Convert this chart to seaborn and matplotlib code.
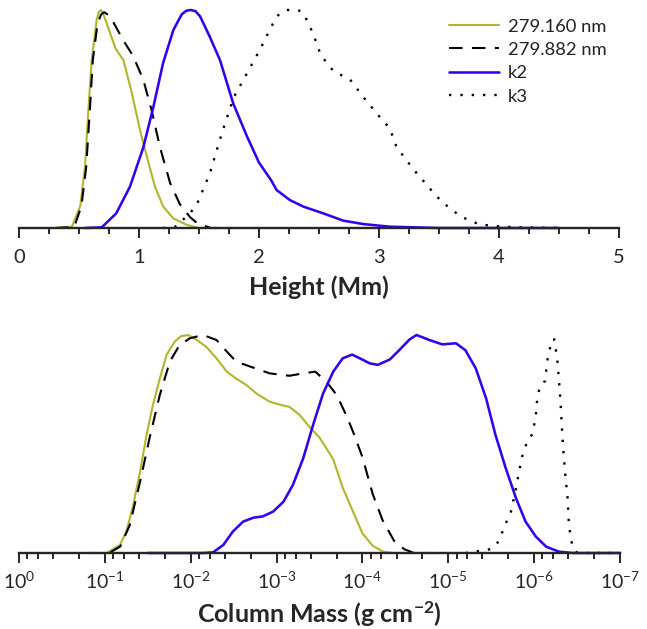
import numpy as np
import pandas as pd
import matplotlib
matplotlib.use("Agg")
import matplotlib.pyplot as plt
from matplotlib.ticker import LogLocator, NullFormatter
import seaborn as sns

# ---- data (peak-normalised distributions) ----
labels = ["279.160 nm", "279.882 nm", "k2", "k3"]

# height panel, x in Mm
h160_x = [0.30, 0.44, 0.51, 0.55, 0.578, 0.606, 0.647, 0.665, 0.683, 0.70, 0.73, 0.80,
          0.82, 0.87, 0.94, 1.008, 1.064, 1.133, 1.20, 1.286, 1.40, 1.50, 1.75]
h160_y = [0, 0.005, 0.10, 0.28, 0.54, 0.77, 0.954, 0.99, 1.0, 0.985, 0.94, 0.83,
          0.81, 0.77, 0.62, 0.45, 0.33, 0.19, 0.10, 0.044, 0.014, 0.0, 0]

h882_x = [0.30, 0.46, 0.52, 0.56, 0.59, 0.615, 0.655, 0.685, 0.71, 0.75, 0.79, 0.87,
          0.95, 1.036, 1.105, 1.175, 1.26, 1.34, 1.425, 1.49, 1.60, 2.0]
h882_y = [0, 0.005, 0.10, 0.28, 0.54, 0.77, 0.94, 0.98, 0.99, 0.975, 0.94, 0.86,
          0.79, 0.68, 0.54, 0.37, 0.205, 0.11, 0.05, 0.02, 0, 0]

hk2_x = [0.55, 0.69, 0.81, 0.925, 1.036, 1.12, 1.20, 1.286, 1.356, 1.395, 1.43, 1.47,
         1.51, 1.59, 1.675, 1.786, 1.90, 2.0, 2.1, 2.147, 2.258, 2.37, 2.536, 2.70,
         2.87, 3.09, 3.5, 4.5]
hk2_y = [0, 0.003, 0.067, 0.19, 0.37, 0.556, 0.755, 0.908, 0.98, 0.997, 1.0, 0.995,
         0.97, 0.877, 0.77, 0.57, 0.42, 0.30, 0.22, 0.174, 0.128, 0.098, 0.067, 0.034,
         0.018, 0.006, 0, 0]

hk3_x = [1.20, 1.30, 1.425, 1.486, 1.59, 1.69, 1.79, 1.90, 2.0, 2.1, 2.147, 2.19, 2.23,
         2.31, 2.35, 2.38, 2.45, 2.51, 2.56, 2.62, 2.76, 2.87, 2.98, 3.09, 3.145, 3.23,
         3.316, 3.40, 3.47, 3.54, 3.61, 3.675, 3.744, 3.83, 3.95, 4.15, 4.53]
hk3_y = [0, 0.005, 0.067, 0.113, 0.25, 0.434, 0.60, 0.71, 0.81, 0.92, 0.97, 0.99, 1.0,
         1.0, 0.995, 0.975, 0.893, 0.80, 0.76, 0.72, 0.68, 0.60, 0.526, 0.457, 0.373, 0.31,
         0.25, 0.197, 0.151, 0.113, 0.083, 0.055, 0.037, 0.018, 0.009, 0.003, 0]

# column mass panel, x given as -log10(g cm^-2)
m160_d = [0.8, 1.02, 1.175, 1.25, 1.33, 1.41, 1.485, 1.56, 1.64, 1.72, 1.815, 1.89,
          1.97, 2.07, 2.18, 2.30, 2.42, 2.53, 2.65, 2.77, 2.92, 3.04, 3.15, 3.27,
          3.38, 3.50, 3.58, 3.66, 3.77, 3.89, 4.0, 4.12, 4.24, 4.36, 5.0]
m160_y = [0, 0, 0.037, 0.098, 0.22, 0.373, 0.54, 0.68, 0.80, 0.91, 0.97, 0.995,
          1.0, 0.977, 0.946, 0.893, 0.832, 0.80, 0.77, 0.73, 0.694, 0.68, 0.67, 0.633,
          0.58, 0.53, 0.48, 0.43, 0.30, 0.19, 0.09, 0.033, 0.006, 0, 0]

m882_d = [0.8, 1.05, 1.18, 1.29, 1.41, 1.52, 1.64, 1.757, 1.87, 1.99, 2.145, 2.30,
          2.42, 2.53, 2.73, 2.92, 3.15, 3.31, 3.45, 3.58, 3.70, 3.81, 3.89, 4.0,
          4.12, 4.235, 4.37, 4.49, 4.6, 5.2]
m882_y = [0, 0, 0.03, 0.128, 0.327, 0.526, 0.725, 0.878, 0.954, 0.985, 1.0, 0.977,
          0.924, 0.878, 0.85, 0.824, 0.813, 0.824, 0.832, 0.786, 0.725, 0.633, 0.557, 0.44,
          0.27, 0.15, 0.055, 0.017, 0, 0]

mk2_d = [1.5, 2.15, 2.26, 2.38, 2.49, 2.61, 2.73, 2.84, 2.96, 3.08, 3.19, 3.31, 3.425,
         3.54, 3.66, 3.77, 3.88, 3.97, 4.085, 4.18, 4.32, 4.43, 4.55, 4.63, 4.78,
         4.93, 5.09, 5.20, 5.32, 5.44, 5.55, 5.67, 5.79, 5.90, 6.02, 6.14, 6.29,
         6.45, 7.0]
mk2_y = [0, 0, 0.003, 0.037, 0.098, 0.144, 0.162, 0.168, 0.19, 0.235, 0.312, 0.434,
         0.587, 0.73, 0.832, 0.893, 0.91, 0.893, 0.87, 0.863, 0.888, 0.931, 0.98, 1.0,
         0.977, 0.957, 0.962, 0.93, 0.847, 0.71, 0.541, 0.388, 0.25, 0.144, 0.075,
         0.029, 0.006, 0, 0]

mk3_d = [5.2, 5.50, 5.585, 5.67, 5.73, 5.78, 5.82, 5.87, 5.92, 5.97, 6.0, 6.02, 6.04,
         6.08, 6.13, 6.15, 6.18, 6.20, 6.235, 6.27, 6.30, 6.32, 6.335, 6.36, 6.39,
         6.405, 6.445, 6.5, 7.0]
mk3_y = [0, 0.018, 0.052, 0.136, 0.19, 0.28, 0.365, 0.46, 0.51, 0.54, 0.587, 0.633,
         0.725, 0.774, 0.79, 0.878, 0.93, 0.977, 0.98, 0.885, 0.74, 0.60, 0.495, 0.373,
         0.25, 0.128, 0.029, 0, 0]

colors = ["#b2b52c", "black", "#3300f0", "black"]
widths = [1.5, 1.5, 1.85, 1.7]
styles = ["-", (0, (6.5, 4.5)), "-", (0, (1, 3.8))]

sns.set_style("white")
plt.rcParams["font.family"] = ["Lato", "DejaVu Sans"]
plt.rcParams["mathtext.fontset"] = "custom"
plt.rcParams["mathtext.rm"] = "Lato"
plt.rcParams["mathtext.it"] = "Lato:italic"
plt.rcParams["mathtext.bf"] = "Lato:bold"
plt.rcParams["axes.unicode_minus"] = True

fig = plt.figure(figsize=(6.47, 6.29), dpi=100)
ax1 = fig.add_axes([19 / 647, 1 - 228 / 629, 600 / 647, 218 / 629])
ax2 = fig.add_axes([19 / 647, 1 - 553 / 629, 601 / 647, 218 / 629])

top = [(h160_x, h160_y), (h882_x, h882_y), (hk2_x, hk2_y), (hk3_x, hk3_y)]
bot = [(m160_d, m160_y), (m882_d, m882_y), (mk2_d, mk2_y), (mk3_d, mk3_y)]

for i, lab in enumerate(labels):
    x, y = top[i]
    sns.lineplot(x=x, y=y, ax=ax1, color=colors[i], lw=widths[i], label=lab,
                 linestyle=styles[i], sort=False)
    d, y = bot[i]
    sns.lineplot(x=10.0 ** (-np.array(d)), y=y, ax=ax2, color=colors[i], lw=widths[i],
                 linestyle=styles[i], sort=False, legend=False)

for ln in ax1.lines + ax2.lines:
    ln.set_clip_on(False)
    ln.set_solid_joinstyle("round")
    ln.set_dash_joinstyle("round")

ax1.set_xlim(0, 5)
ax1.set_ylim(0, 1)
ax1.set_xticks(np.arange(0, 5.01, 1))
ax1.set_xticks(np.arange(0, 5.01, 0.25), minor=True)
ax1.set_xlabel("Height (Mm)", fontsize=18, fontweight="bold", labelpad=7)

ax2.set_xscale("log")
ax2.set_xlim(1, 1e-7)
ax2.set_ylim(0, 1)
ax2.xaxis.set_minor_locator(LogLocator(base=10, subs=(0.2, 0.4, 0.6, 0.8), numticks=20))
ax2.xaxis.set_minor_formatter(NullFormatter())
ax2.set_xlabel(r"Column Mass (g cm$^{\mathbf{-2}}$)", fontsize=18, fontweight="bold",
               labelpad=5)

for ax in (ax1, ax2):
    ax.set_ylabel("")
    ax.set_yticks([])
    for s in ("left", "top", "right"):
        ax.spines[s].set_visible(False)
    ax.spines["bottom"].set_linewidth(1.7)
    ax.tick_params(axis="x", which="major", direction="out", length=7.5, width=1.4,
                   labelsize=14.5, pad=7.5, bottom=True)
    ax.tick_params(axis="x", which="minor", direction="out", length=4, width=1.4,
                   bottom=True)
ax2.tick_params(axis="x", which="major", pad=5.5, labelsize=14)

leg = ax1.legend(loc="upper left", bbox_to_anchor=(0.717, 0.961), frameon=False,
                 fontsize=13.2, handlelength=2.73, handletextpad=0.49,
                 labelspacing=0.4, borderaxespad=0, borderpad=0)
for t in leg.get_texts():
    t.set_color("#222222")

fig.savefig("out.png", dpi=100)
